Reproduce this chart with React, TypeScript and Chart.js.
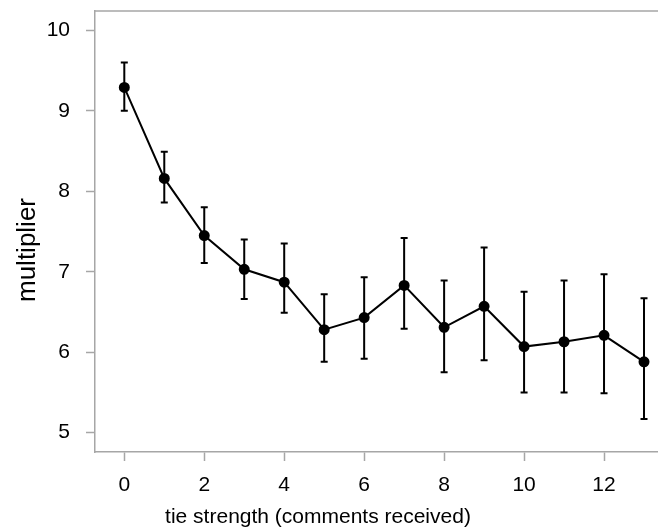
import React, { useEffect, useRef } from "react";
import { Chart, registerables } from "chart.js";

Chart.register(...registerables);

const tieStrength = [0, 1, 2, 3, 4, 5, 6, 7, 8, 9, 10, 11, 12, 13];
const multiplierMean = [9.29, 8.16, 7.45, 7.03, 6.87, 6.28, 6.43, 6.83, 6.31, 6.57, 6.07, 6.13, 6.21, 5.88];
const multiplierUpper = [9.6, 8.49, 7.8, 7.4, 7.35, 6.72, 6.93, 7.42, 6.89, 7.3, 6.75, 6.89, 6.97, 6.67];
const multiplierLower = [9.0, 7.86, 7.11, 6.66, 6.49, 5.88, 5.92, 6.29, 5.75, 5.9, 5.5, 5.5, 5.49, 5.17];
const xTickValues = [0, 2, 4, 6, 8, 10, 12];
const yTickValues = [5, 6, 7, 8, 9, 10];
const xTitle = "tie strength (comments received)";
const yTitle = "multiplier";

const FONT = "'Liberation Sans', Arial, Helvetica, sans-serif";
const FONT_SIZE = 21;
const AXIS_GRAY = "#a6a6a6";

const errorBarsPlugin = {
  id: "errorBars",
  afterDatasetsDraw(chart: any) {
    const { ctx, scales } = chart;
    const xs = scales.x;
    const ys = scales.y;
    ctx.save();
    ctx.strokeStyle = "#000";
    ctx.lineWidth = 2;
    const cap = 3.5;
    tieStrength.forEach((t, i) => {
      const px = xs.getPixelForValue(t);
      const top = ys.getPixelForValue(multiplierUpper[i]);
      const bot = ys.getPixelForValue(multiplierLower[i]);
      ctx.beginPath();
      ctx.moveTo(px, top);
      ctx.lineTo(px, bot);
      ctx.moveTo(px - cap, top);
      ctx.lineTo(px + cap, top);
      ctx.moveTo(px - cap, bot);
      ctx.lineTo(px + cap, bot);
      ctx.stroke();
    });
    ctx.restore();
  },
};

const boxAndTitlePlugin = {
  id: "boxAndTitle",
  afterDraw(chart: any) {
    const { ctx, chartArea } = chart;
    ctx.save();
    ctx.strokeStyle = AXIS_GRAY;
    ctx.lineWidth = 1.5;
    ctx.beginPath();
    ctx.moveTo(chartArea.left, chartArea.top);
    ctx.lineTo(chartArea.right, chartArea.top);
    ctx.stroke();
    ctx.fillStyle = "#000";
    ctx.font = `${FONT_SIZE}px ${FONT}`;
    ctx.textAlign = "center";
    ctx.textBaseline = "middle";
    ctx.fillText(xTitle, chartArea.left + 223, chartArea.bottom + 65);
    ctx.translate(chartArea.left - 67, chartArea.top + 239);
    ctx.rotate(-Math.PI / 2);
    ctx.font = `26px ${FONT}`;
    ctx.fillText(yTitle, 0, 0);
    ctx.restore();
  },
};

export default function App() {
  const ref = useRef<HTMLCanvasElement>(null);
  useEffect(() => {
    if (!ref.current) return;
    const chart = new Chart(ref.current, {
      type: "line",
      data: {
        datasets: [
          {
            data: tieStrength.map((t, i) => ({ x: t, y: multiplierMean[i] })),
            borderColor: "#000",
            backgroundColor: "#000",
            borderWidth: 2,
            pointRadius: 4.5,
            pointBackgroundColor: "#000",
            pointBorderColor: "#000",
            tension: 0,
            clip: false as any,
          },
        ],
      },
      options: {
        responsive: false,
        animation: false,
        layout: { autoPadding: false, padding: { top: 11, left: 0, right: 0, bottom: 0 } },
        plugins: { legend: { display: false }, tooltip: { enabled: false } },
        scales: {
          x: {
            type: "linear",
            min: -0.733,
            max: 13.35,
            afterBuildTicks: (s: any) => {
              s.ticks = xTickValues.map((v) => ({ value: v }));
            },
            afterFit: (s: any) => {
              s.height = 78;
              s.paddingLeft = 0;
              s.paddingRight = 0;
              s.paddingTop = 0;
              s.paddingBottom = 0;
            },
            ticks: {
              autoSkip: false,
              maxRotation: 0,
              padding: 12,
              color: "#000",
              font: { family: FONT, size: FONT_SIZE },
            },
            grid: {
              drawOnChartArea: false,
              drawTicks: true,
              tickLength: 9,
              tickColor: AXIS_GRAY,
              tickWidth: 1.5,
            },
            border: { display: true, color: AXIS_GRAY, width: 1.5 },
          },
          y: {
            type: "linear",
            min: 4.76,
            max: 10.24,
            afterBuildTicks: (s: any) => {
              s.ticks = yTickValues.map((v) => ({ value: v }));
            },
            afterFit: (s: any) => {
              s.width = 95;
              s.paddingLeft = 0;
              s.paddingRight = 0;
              s.paddingTop = 0;
              s.paddingBottom = 0;
            },
            ticks: {
              padding: 16,
              color: "#000",
              font: { family: FONT, size: FONT_SIZE },
            },
            grid: {
              drawOnChartArea: false,
              drawTicks: true,
              tickLength: 9,
              tickColor: AXIS_GRAY,
              tickWidth: 1.5,
            },
            border: { display: true, color: AXIS_GRAY, width: 1.5 },
          },
        },
      },
      plugins: [errorBarsPlugin, boxAndTitlePlugin],
    });
    return () => chart.destroy();
  }, []);
  return (
    <div style={{ position: "absolute", left: 0, top: 0, width: 658, height: 530, background: "#fff" }}>
      <canvas ref={ref} width={658} height={530} style={{ width: 658, height: 530 }} />
    </div>
  );
}
